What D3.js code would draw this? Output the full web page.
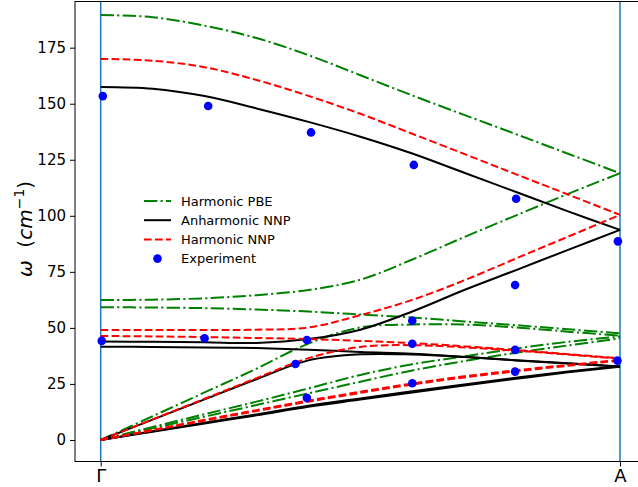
<!DOCTYPE html>
<html>
<head>
<meta charset="utf-8">
<script src="https://cdn.jsdelivr.net/npm/d3@7"></script>
<style>
  html, body { margin: 0; padding: 0; background: #fff; }
  svg { display: block; font-family: "DejaVu Sans", sans-serif; }
</style>
</head>
<body>
<svg id="chart" width="638" height="487"></svg>
<script>
// Wave-vector positions along the Γ–A path (fraction of the path)
const qGrid = [0, 0.1, 0.2, 0.3, 0.4, 0.5, 0.6, 0.7, 0.8, 0.9, 1.0];

// Phonon branches, frequency in cm^-1 at each qGrid point
const harmonicPBE = [
  [189.6, 188.6, 184.8, 179.3, 171.7, 162.7, 153.7, 145.0, 136.4, 127.7, 119.0],
  [62.4, 62.6, 63.2, 64.6, 66.9, 71.5, 80.5, 90.5, 100.2, 109.8, 119.0],
  [59.2, 59.1, 58.8, 58.2, 57.3, 56.0, 54.6, 52.9, 51.2, 49.4, 47.6],
  [0, 10.6, 21.2, 31.8, 43.0, 50.2, 51.5, 51.5, 50.2, 48.3, 46.5],
  [0, 5.8, 11.5, 17.1, 23.0, 29.0, 33.8, 37.3, 40.8, 43.8, 46.2],
  [0, 5.2, 10.4, 15.6, 20.8, 26.0, 31.0, 35.2, 38.9, 42.2, 45.3]
];

const anharmonicNNP = [
  [157.5, 156.7, 153.4, 147.9, 141.9, 135.3, 127.8, 119.2, 110.6, 102.0, 93.7],
  [43.9, 43.8, 43.6, 43.3, 45.0, 49.2, 57.3, 66.9, 75.8, 84.8, 93.7],
  [41.6, 41.5, 41.3, 41.0, 40.3, 39.2, 38.5, 37.1, 35.6, 34.2, 32.8],
  [0, 9.1, 18.1, 27.1, 35.5, 38.2, 38.1, 37.0, 35.5, 34.1, 32.7],
  [0, 3.9, 7.7, 11.4, 15.3, 18.5, 21.7, 24.8, 27.8, 30.6, 33.0],
  [0, 3.7, 7.4, 11.0, 14.8, 18.0, 21.2, 24.3, 27.3, 30.2, 32.7]
];

const harmonicNNP = [
  [170.0, 169.2, 166.3, 160.6, 153.5, 145.5, 136.6, 127.6, 118.5, 109.5, 100.4],
  [49.1, 49.1, 49.1, 49.2, 50.2, 55.7, 62.5, 71.2, 81.0, 90.7, 100.4],
  [46.4, 46.2, 45.9, 45.5, 45.0, 44.2, 43.2, 41.8, 40.1, 38.3, 36.4],
  [0, 9.2, 18.4, 27.6, 36.5, 41.5, 42.3, 41.3, 39.8, 38.1, 36.2],
  [0, 4.5, 9.0, 13.3, 17.6, 21.5, 25.2, 28.4, 31.1, 33.5, 35.7],
  [0, 4.3, 8.6, 12.9, 17.1, 21.0, 24.7, 27.9, 30.6, 33.1, 35.4]
];

// Measured frequencies: path position and frequency
const experimentQ = [0.004, 0.002, 0.207, 0.2, 0.405, 0.397, 0.375, 0.397,
                     0.603, 0.6, 0.6, 0.6, 0.8, 0.798, 0.798, 0.798, 0.996, 0.995];
const experimentW = [153.4, 44.2, 149.0, 45.4, 137.2, 44.6, 33.9, 18.8,
                     122.7, 53.2, 42.9, 25.3, 107.6, 69.1, 40.2, 30.5, 88.6, 35.4];

const yTicks = [0, 25, 50, 75, 100, 125, 150, 175];
const xTickPos = [0, 1];
const xTickLabels = ["Γ", "A"];

const legendLabels = ["Harmonic PBE", "Anharmonic NNP", "Harmonic NNP", "Experiment"];

// ---- layout ----
const svg = d3.select("#chart");
const frame = { left: 75, right: 646, top: 1.5, bottom: 461.5 };

const x = d3.scaleLinear().domain([0, 1]).range([100.7, 620]);
const y = d3.scaleLinear().domain([-9.6, 195.6]).range([frame.bottom, frame.top]);

const line = d3.line()
  .x((d, i) => x(qGrid[i]))
  .y(d => y(d))
  .curve(d3.curveCatmullRom.alpha(0.5));

const styles = {
  pbe: { color: "#008000", dash: "13.3,3.3,2.1,3.3" },
  anh: { color: "#000000", dash: null },
  nnp: { color: "#ff0000", dash: "7.7,3.3" }
};

const plot = svg.append("g");

// high-symmetry point markers
plot.selectAll("line.hsp").data(xTickPos).join("line")
  .attr("class", "hsp")
  .attr("x1", d => x(d)).attr("x2", d => x(d))
  .attr("y1", frame.top).attr("y2", frame.bottom)
  .attr("stroke", "#1f77b4").attr("stroke-width", 1.5);

function drawBranches(data, st) {
  plot.append("g").selectAll("path").data(data).join("path")
    .attr("d", line)
    .attr("fill", "none")
    .attr("stroke", st.color)
    .attr("stroke-width", 2)
    .attr("stroke-dasharray", st.dash);
}
drawBranches(harmonicPBE, styles.pbe);
drawBranches(anharmonicNNP, styles.anh);
drawBranches(harmonicNNP, styles.nnp);

plot.append("g").selectAll("circle").data(experimentW).join("circle")
  .attr("cx", (d, i) => x(experimentQ[i]))
  .attr("cy", d => y(d))
  .attr("r", 4.3)
  .attr("fill", "#0000ff");

// ---- frame and axes ----
svg.append("rect")
  .attr("x", frame.left).attr("y", frame.top)
  .attr("width", frame.right - frame.left).attr("height", frame.bottom - frame.top)
  .attr("fill", "none").attr("stroke", "#000").attr("stroke-width", 1);

const yAxis = d3.axisLeft(y).tickValues(yTicks).tickSize(5).tickPadding(4);
const gy = svg.append("g").attr("transform", `translate(${frame.left},0)`).call(yAxis);
gy.select(".domain").remove();
gy.selectAll("text").attr("font-size", 15).attr("fill", "#000")
  .attr("font-family", "DejaVu Sans");

const xAxis = d3.axisBottom(x).tickValues(xTickPos)
  .tickFormat((d, i) => xTickLabels[i]).tickSize(5).tickPadding(3);
const gx = svg.append("g").attr("transform", `translate(0,${frame.bottom})`).call(xAxis);
gx.select(".domain").remove();
gx.selectAll("text").attr("font-size", 18).attr("fill", "#000")
  .attr("font-family", "DejaVu Sans");

// y-axis title: ω (cm^-1)
const ylab = svg.append("text")
  .attr("transform", "translate(32,229) rotate(-90)")
  .attr("text-anchor", "middle")
  .attr("font-size", 20)
  .attr("font-family", "DejaVu Sans");
ylab.append("tspan").attr("font-style", "italic").text("ω");
ylab.append("tspan").attr("xml:space", "preserve").text("  (");
ylab.append("tspan").attr("font-style", "italic").text("cm");
ylab.append("tspan").attr("font-size", 14).attr("dy", -8).text("−1");
ylab.append("tspan").attr("dy", 8).text(")");

// ---- legend ----
const legend = svg.append("g").attr("transform", "translate(144,201)");
const rowH = 19.2;
const legendStyles = [styles.pbe, styles.anh, styles.nnp];
legendLabels.forEach((lab, i) => {
  const g = legend.append("g").attr("transform", `translate(0,${i * rowH})`);
  if (i < 3) {
    g.append("line").attr("x1", 0).attr("x2", 27).attr("y1", 0).attr("y2", 0)
      .attr("stroke", legendStyles[i].color).attr("stroke-width", 2)
      .attr("stroke-dasharray", legendStyles[i].dash);
  } else {
    g.append("circle").attr("cx", 13.5).attr("cy", 0).attr("r", 4.3).attr("fill", "#0000ff");
  }
  g.append("text").attr("x", 37).attr("y", 0).attr("dy", "0.35em")
    .attr("font-size", 13).attr("font-family", "DejaVu Sans").text(lab);
});
</script>
</body>
</html>
